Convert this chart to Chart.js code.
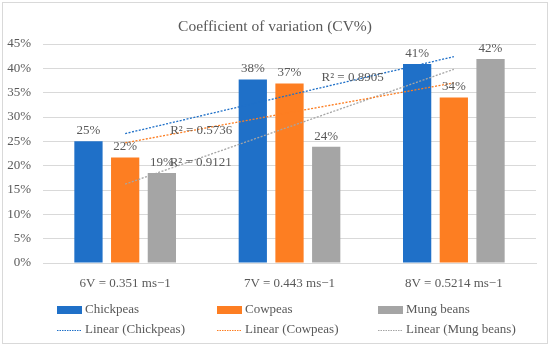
<!DOCTYPE html>
<html>
<head>
<meta charset="utf-8">
<script src="https://cdn.jsdelivr.net/npm/chart.js@4/dist/chart.umd.min.js"></script>
<style>
  html, body { margin: 0; padding: 0; background: #fff; }
  #wrap { width: 550px; height: 347px; }
</style>
</head>
<body>
<div id="wrap"><canvas id="cvChart" width="550" height="347"></canvas></div>
<script>
const categories = ['6V = 0.351 ms\u22121', '7V = 0.443 ms\u22121', '8V = 0.5214 ms\u22121'];
const chickpeas = [25.0, 37.7, 40.9];
const cowpeas = [21.7, 36.9, 34.0];
const mungBeans = [18.5, 23.9, 41.9];
// linear trendlines as drawn in the picture
const trendChickpeas = [26.6, 34.5, 42.4];
const trendCowpeas = [24.7, 30.9, 37.0];
const trendMung = [16.2, 28.0, 39.8];
const r2Labels = ['R\u00b2 = 0.8905', 'R\u00b2 = 0.5736', 'R\u00b2 = 0.9121'];

const FONT = '"Liberation Serif", "Times New Roman", serif';
const TEXT = '#595959';
const BLUE = '#1f70c8', ORANGE = '#fd7e22', GREY = '#a5a5a5';

const frame = {
  id: 'frame',
  beforeDraw(chart) {
    const c = chart.ctx;
    c.save();
    c.strokeStyle = '#d9d9d9';
    c.lineWidth = 1;
    c.strokeRect(2.5, 2.5, 545, 341);
    c.fillStyle = TEXT;
    c.font = '15.5px ' + FONT;
    c.textAlign = 'center';
    c.textBaseline = 'middle';
    c.fillText('Coefficient of variation (CV%)', 275, 27);
    c.restore();
  }
};

const labels = {
  id: 'labels',
  afterDatasetsDraw(chart) {
    const c = chart.ctx;
    c.save();
    c.font = '13px ' + FONT;
    c.fillStyle = TEXT;
    c.textAlign = 'center';
    c.textBaseline = 'bottom';
    chart.data.datasets.forEach((ds, i) => {
      if (ds.type !== 'bar') return;
      chart.getDatasetMeta(i).data.forEach((bar, j) => {
        c.fillText(Math.round(ds.data[j]) + '%', bar.x, bar.y - 4);
      });
    });
    const xs = chart.scales.x, ys = chart.scales.y;
    c.textBaseline = 'middle';
    c.fillText(r2Labels[0], xs.getPixelForValue(1.384), ys.getPixelForValue(38.2));
    c.fillText(r2Labels[1], xs.getPixelForValue(0.463), ys.getPixelForValue(27.3));
    c.fillText(r2Labels[2], xs.getPixelForValue(0.46), ys.getPixelForValue(20.7));
    c.restore();
  }
};

const legendGrid = {
  id: 'legendGrid',
  afterDraw(chart) {
    const c = chart.ctx;
    c.save();
    c.font = '13px ' + FONT;
    c.fillStyle = TEXT;
    c.textBaseline = 'middle';
    const cols = [57, 217, 378], rows = [310, 330];
    chart.data.datasets.forEach((ds, i) => {
      const x = cols[i % 3], y = rows[Math.floor(i / 3)];
      if (ds.type === 'bar') {
        c.fillStyle = ds.backgroundColor;
        c.fillRect(x, y - 4, 25, 8);
      } else {
        c.strokeStyle = ds.borderColor;
        c.lineWidth = 1;
        c.setLineDash([1.5, 1]);
        c.beginPath();
        c.moveTo(x, y + 0.5);
        c.lineTo(x + 25, y + 0.5);
        c.stroke();
        c.setLineDash([]);
      }
      c.fillStyle = TEXT;
      c.fillText(ds.label, x + 28, y);
    });
    c.restore();
  }
};

function barSet(label, data, color) {
  return { type: 'bar', label, data, backgroundColor: color, order: 2,
    categoryPercentage: 0.67, barPercentage: 0.77 };
}
function trendSet(label, data, color) {
  return { type: 'line', label, data, borderColor: color, borderWidth: 1.3,
    borderDash: [2, 1.5], pointRadius: 0, fill: false, order: 1 };
}

new Chart(document.getElementById('cvChart'), {
  data: {
    labels: categories,
    datasets: [
      barSet('Chickpeas', chickpeas, BLUE),
      barSet('Cowpeas', cowpeas, ORANGE),
      barSet('Mung beans', mungBeans, GREY),
      trendSet('Linear (Chickpeas)', trendChickpeas, BLUE),
      trendSet('Linear (Cowpeas)', trendCowpeas, ORANGE),
      trendSet('Linear (Mung beans)', trendMung, GREY)
    ]
  },
  options: {
    responsive: false,
    animation: false,
    layout: { padding: { top: 44, right: 14, left: 0, bottom: 0 } },
    plugins: {
      legend: { display: false },
      title: { display: false },
      tooltip: { enabled: false }
    },
    scales: {
      x: {
        grid: { display: false },
        border: { color: '#d9d9d9' },
        ticks: { color: TEXT, font: { family: FONT, size: 13 }, padding: 5 },
        afterFit: s => { s.height = 84; }
      },
      y: {
        min: 0, max: 45,
        ticks: { stepSize: 5, color: TEXT, font: { family: FONT, size: 13 },
          padding: 12, callback: v => v + '%' },
        grid: { color: '#d9d9d9', drawTicks: false },
        border: { display: false },
        afterFit: s => { s.width = 43; }
      }
    }
  },
  plugins: [frame, labels, legendGrid]
});
</script>
</body>
</html>
